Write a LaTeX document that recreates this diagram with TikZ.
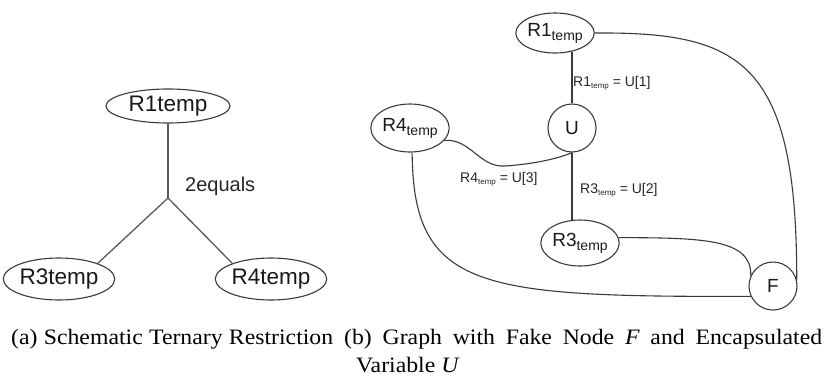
\documentclass[tikz,border=0pt]{standalone}
\usepackage{fontspec}
\setmainfont{Liberation Sans}
\newfontfamily\capfont[FakeStretch=1.08]{Liberation Serif}
\usetikzlibrary{shapes.geometric,calc}
\definecolor{edgegray}{HTML}{5A5A5A}
\definecolor{darkline}{HTML}{3A3A3A}
\begin{document}
\begin{tikzpicture}[x=1pt,y=-1pt,
  ell/.style={ellipse,draw=darkline,line width=1.1pt,inner sep=0pt,text=black!90},
  circ/.style={circle,draw=darkline,line width=1.1pt,inner sep=0pt,minimum size=48pt,text=black!90},
  ledge/.style={draw=edgegray,line width=1.3pt},
  redge/.style={draw=darkline,line width=1.1pt},
  lbl/.style={anchor=base west,inner sep=0pt,text=black!85},
  bigtxt/.style={font=\fontsize{22.5}{26}\selectfont},
  nodetxt/.style={font=\fontsize{19}{22}\selectfont},
  captxt/.style={anchor=base west,inner sep=0pt,font=\capfont\fontsize{22}{26}\selectfont}]
\useasboundingbox (0,0) rectangle (826,378);
\newcommand{\subtxt}[2]{#1\raisebox{-4pt}{\fontsize{14}{14}\selectfont temp}}
\newcommand{\smallsub}[1]{#1\raisebox{-2.5pt}{\fontsize{8}{8}\selectfont temp}}
% ---------- (a) ----------
\node[ell,bigtxt,minimum width=124pt,minimum height=34pt] (a1) at (168,106) {R1temp};
\node[ell,bigtxt,minimum width=98pt,minimum height=42pt] (a3) at (59,279) {R3temp};
\node[ell,bigtxt,minimum width=96pt,minimum height=42pt] (a4) at (271,279) {R4temp};
\coordinate (j) at (168,198);
\draw[ledge] (a1.south) -- (j);
\draw[ledge] (j) -- (a3.22);
\draw[ledge] (j) -- (a4.158);
\node[lbl,font=\fontsize{20}{24}\selectfont] (eq) at (185,191) {2equals};
% ---------- (b) ----------
\node[ell,nodetxt,minimum width=74pt,minimum height=40pt] (r1) at (555,33) {\subtxt{R1}{}};
\node[circ,nodetxt] (u) at (572,128) {U};
\node[ell,nodetxt,minimum width=74pt,minimum height=48pt] (r4) at (410,128) {\subtxt{R4}{}};
\node[ell,nodetxt,minimum width=74pt,minimum height=46pt] (r3) at (580,243) {\subtxt{R3}{}};
\node[circ,nodetxt] (f) at (773,286) {F};
\draw[redge] (u.north) -- ($(u.north |- r1.south)+(0,-2)$);
\draw[redge] (u.south) -- ($(u.south |- r3.north)+(0,1)$);
\draw[redge] (r4.-20) .. controls (470,138) and (480,168) .. (505,166)
  .. controls (535,164) and (560,158) .. (u.south);
\draw[redge] (r1.east) .. controls (740,32) and (797,60) .. (f.15);
\draw[redge] (r3.8) .. controls (700,238) and (752,238) .. (f.155);
\draw[redge] (r4.-85) .. controls (413,290) and (480,297) .. (f.205);
\node[lbl,font=\fontsize{14}{16}\selectfont] (l1) at (573,86) {\smallsub{R1} = U[1]};
\node[lbl,font=\fontsize{14}{16}\selectfont] (l2) at (580,193) {\smallsub{R3} = U[2]};
\node[lbl,font=\fontsize{14}{16}\selectfont] (l3) at (460,182) {\smallsub{R4} = U[3]};
% ---------- captions ----------
\node[captxt] (capa) at (11,344) {\makebox[322pt][s]{(a) Schematic Ternary Restriction}};
\node[captxt] (capb) at (344,344) {\makebox[478pt][s]{(b) Graph with Fake Node \textit{F} and Encapsulated}};
\node[captxt] (capb2) at (356,372) {Variable \textit{U}};
\end{tikzpicture}
\end{document}
